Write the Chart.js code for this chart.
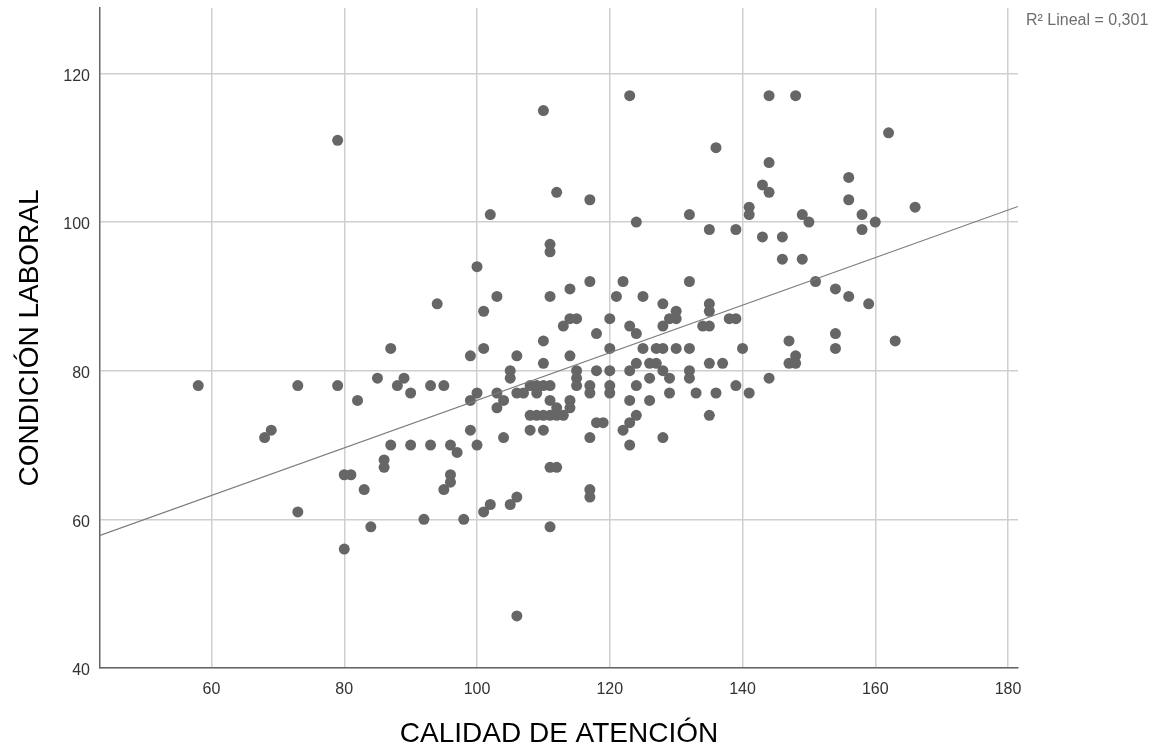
<!DOCTYPE html>
<html><head><meta charset="utf-8">
<script src="https://cdn.jsdelivr.net/npm/chart.js@4.4.1/dist/chart.umd.min.js"></script>
<style>html,body{margin:0;padding:0;background:#fff;}canvas{display:block;}</style>
</head><body>
<canvas id="c" width="1155" height="748"></canvas>
<script>
// CALIDAD DE ATENCIÓN (x) values
const calidad = [58,73,79,87,85,89,88,90,93,82,69,68,87,90,93,86,86,80,81,83,73,92,84,80,79,
110,123,112,117,102,124,111,111,100,94,103,101,111,114,117,122,121,125,128,114,115,113,120,123,124,118,128,129,110,
120,114,99,101,106,110,125,127,128,
105,105,115,115,115,118,120,123,124,126,127,128,129,126,124,
95,100,99,103,104,103,106,107,109,108,109,110,111,
111,112,113,114,114,
108,109,110,111,112,
108,110,99,104,96,97,100,117,118,119,122,123,124,123,128,
111,112,96,96,95,117,117,106,105,102,101,98,111,106,
117,117,120,120,123,126,129,
144,148,162,136,144,143,144,156,156,166,132,141,141,149,150,158,160,158,135,139,143,146,146,149,132,151,154,156,159,130,130,135,135,134,135,138,139,154,147,163,130,132,140,154,147,148,148,135,137,132,132,144,139,141,133,136,135];
// CONDICIÓN LABORAL (y) values
const condicion = [78,78,78,83,79,79,78,77,78,76,72,71,70,70,70,68,67,66,66,64,61,60,59,56,111,
115,117,104,103,101,100,97,96,94,89,90,88,90,91,92,92,90,90,89,87,87,86,87,86,85,85,86,87,84,
83,82,82,83,82,81,83,83,83,
80,79,80,79,78,80,80,80,81,81,81,80,79,79,78,
78,77,76,77,76,75,77,77,77,78,78,78,78,
76,75,74,76,75,
74,74,74,74,74,
72,72,72,71,70,69,70,71,73,73,72,73,74,70,71,
67,67,66,65,64,64,63,63,62,62,61,60,59,47,
78,77,78,77,76,76,77,
117,117,112,110,108,105,104,106,103,102,101,102,101,101,100,101,100,99,99,99,98,98,95,95,92,92,91,90,89,88,87,89,88,86,86,87,87,85,84,84,83,83,83,83,81,82,81,81,81,80,79,79,78,77,77,77,74];
const xTicks = [60,80,100,120,140,160,180];
const yTicks = [40,60,80,100,120];
const fitX = [43.2, 181.5];
const fitY = [57.85, 102.1];
const r2Label = 'R² Lineal = 0,301';
const xTitle = 'CALIDAD DE ATENCIÓN';
const yTitle = 'CONDICIÓN LABORAL';

const FONT = "'Liberation Sans', Arial, sans-serif";
const points = calidad.map((v,i)=>({x:v, y:condicion[i]}));
const fitLine = fitX.map((v,i)=>({x:v, y:fitY[i]}));

const r2Plugin = {
  id:'r2',
  afterDraw(chart){
    const ctx = chart.ctx;
    ctx.save();
    ctx.font = "16px " + FONT;
    ctx.fillStyle = '#6e6e6e';
    ctx.textAlign = 'left';
    ctx.textBaseline = 'middle';
    ctx.fillText(r2Label, chart.chartArea.right + 8, 21);
    ctx.restore();
  }
};

new Chart(document.getElementById('c'), {
  type:'scatter',
  data:{datasets:[
    {label:'puntos', data:points, backgroundColor:'#666666', borderColor:'#666666', borderWidth:0, pointRadius:5.5, pointHoverRadius:5.5, order:2},
    {label:'ajuste', type:'line', data:fitLine, borderColor:'#7a7a7a', borderWidth:1.2, pointRadius:0, fill:false, tension:0, order:1}
  ]},
  options:{
    responsive:false, animation:false,
    layout:{padding:{top:8,right:137,left:0,bottom:0}},
    plugins:{legend:{display:false}, tooltip:{enabled:false}},
    scales:{
      x:{type:'linear', min:43.2, max:181.5,
        afterBuildTicks(s){ s.ticks = xTicks.map(v=>({value:v})); },
        afterFit(s){ s.height = 80; s.paddingLeft = 0; s.paddingRight = 0; },
        grid:{color:'#cfcfcf', lineWidth:1.5, drawTicks:false},
        border:{display:true, color:'#666', width:1.5},
        ticks:{padding:12, color:'#333', font:{family:FONT, size:16}},
        title:{display:true, text:xTitle, color:'#000', font:{family:FONT, size:28, lineHeight:1}, padding:{top:0,bottom:0}}
      },
      y:{type:'linear', min:40, max:128.8,
        afterBuildTicks(s){ s.ticks = yTicks.map(v=>({value:v})); },
        afterFit(s){ s.width = 100; s.paddingTop = 0; s.paddingBottom = 0; },
        grid:{color:'#cfcfcf', lineWidth:1.5, drawTicks:false},
        border:{display:true, color:'#666', width:1.5},
        ticks:{padding:10, labelOffset:3, color:'#333', font:{family:FONT, size:16}},
        title:{display:true, text:yTitle, color:'#000', font:{family:FONT, size:28, lineHeight:1}, padding:{top:16,bottom:0}}
      }
    }
  },
  plugins:[r2Plugin]
});
</script>
</body></html>
